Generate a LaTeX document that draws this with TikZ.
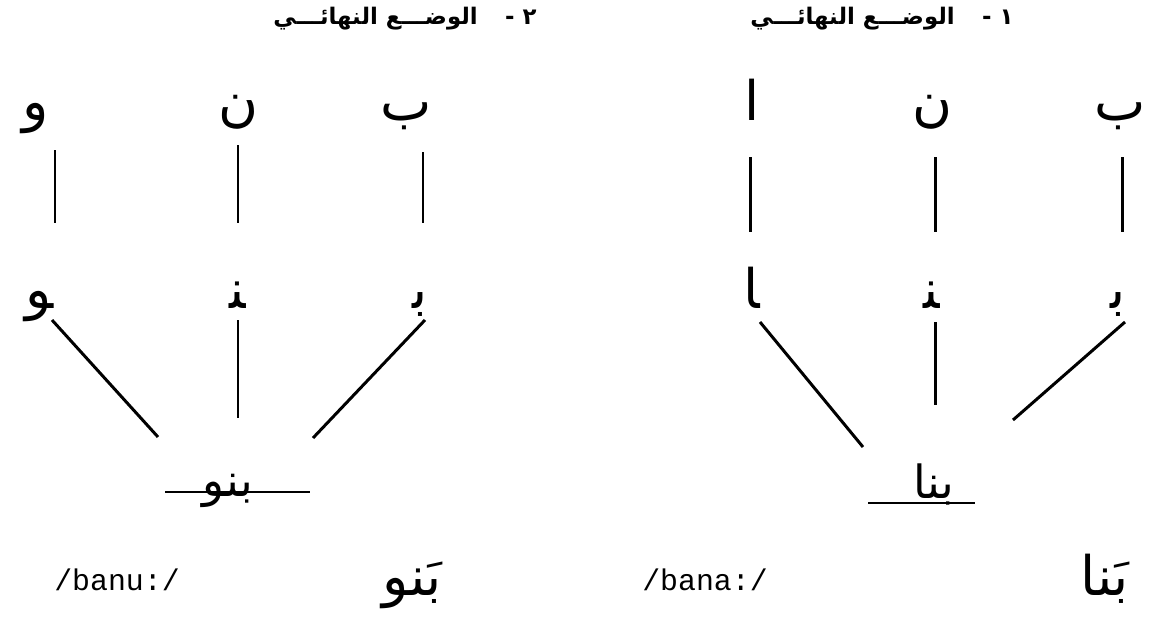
\documentclass[tikz,border=0pt]{standalone}
\usepackage{fontspec}
\usepackage{tikz}
\usetikzlibrary{calc}
\TeXXeTstate=1
\newfontfamily\arabicfont[Script=Arabic]{DejaVu Sans}
\newfontfamily\translitfont{Liberation Mono}
\newcommand{\arab}[1]{{\arabicfont\beginR #1\endR}}

\tikzset{
  title/.style={inner sep=0pt, anchor=base, font=\bfseries\fontsize{13}{15}\selectfont},
  letter/.style={inner sep=0pt, anchor=base, font=\fontsize{31}{34}\selectfont},
  word/.style={inner sep=0pt, anchor=base, font=\fontsize{26}{30}\selectfont},
  spoken/.style={inner sep=0pt, anchor=base, font=\translitfont\fontsize{17}{20}\selectfont},
  link/.style={line width=1.7pt},
}

\begin{document}
\begin{tikzpicture}[x=0.02cm,y=-0.02cm]
        \useasboundingbox (0,0) rectangle (1150,639);

        % Panel 1: bana
        \node[title] (ttlA) at (882,25) {\arab{١ -\hspace{1.2em}الوضـــع النهائـــي}};
        \node[letter] (baA) at (1120,120) {\arab{ب}};
        \node[letter] (nuA) at (932,120) {\arab{ن}};
        \node[letter] (alA) at (752,120) {\arab{ا}};
        \node[letter] (baAi) at (1118,308) {\arab{ﺑ}};
        \node[letter] (nuAm) at (932,308) {\arab{ﻨ}};
        \node[letter] (alAf) at (752,308) {\arab{ﺎ}};
        \node[word] (wrdA) at (934,498) {\arab{بنا}};
        \node[spoken] (ipaA) at (705,590) {/bana:/};
        \node[letter] (vocA) at (1105,595) {\arab{بَنا}};

        % letters down to their joined forms
        \draw[link] ($(baA.base)+(2,37)$) -- ($(baAi.base)+(4,-76)$);
        \draw[link] ($(nuA.base)+(3,37)$) -- ($(nuAm.base)+(3,-76)$);
        \draw[link] ($(alA.base)+(-2,37)$) -- ($(alAf.base)+(-2,-76)$);

        % joined forms into the word
        \draw[link] ($(alAf.base)+(8,14)$) -- ($(wrdA.base)+(-71,-51)$);
        \draw[link] ($(nuAm.base)+(3,14)$) -- ($(wrdA.base)+(1,-93)$);
        \draw[link] ($(baAi.base)+(7,14)$) -- ($(wrdA.base)+(79,-78)$);
        \draw[link] ($(wrdA.base)+(-66,5)$) -- ++(107,0);

        % Panel 2: banu
        \node[title] (ttlB) at (405,25) {\arab{٢ -\hspace{1.2em}الوضـــع النهائـــي}};
        \node[letter] (baB) at (406,120) {\arab{ب}};
        \node[letter] (nuB) at (238,120) {\arab{ن}};
        \node[letter] (waB) at (36,120) {\arab{و}};
        \node[letter] (baBi) at (420,308) {\arab{ﺑ}};
        \node[letter] (nuBm) at (238,308) {\arab{ﻨ}};
        \node[letter] (waBf) at (40,308) {\arab{ﻮ}};
        \node[word] (wrdB) at (228,496) {\arab{بنو}};
        \node[spoken] (ipaB) at (117,590) {/banu:/};
        \node[letter] (vocB) at (412,595) {\arab{بَنو}};

        % letters down to their joined forms
        \draw[link] ($(baB.base)+(17,32)$) -- ($(baBi.base)+(3,-85)$);
        \draw[link] ($(nuB.base)+(0,25)$) -- ($(nuBm.base)+(0,-85)$);
        \draw[link] ($(waB.base)+(19,30)$) -- ($(waBf.base)+(15,-85)$);

        % joined forms into the word
        \draw[link] ($(waBf.base)+(12,12)$) -- ($(wrdB.base)+(-70,-59)$);
        \draw[link] ($(nuBm.base)+(0,12)$) -- ($(wrdB.base)+(10,-78)$);
        \draw[link] ($(baBi.base)+(5,12)$) -- ($(wrdB.base)+(85,-58)$);
        \draw[link] ($(wrdB.base)+(-63,-4)$) -- ++(145,0);
\end{tikzpicture}
\end{document}
